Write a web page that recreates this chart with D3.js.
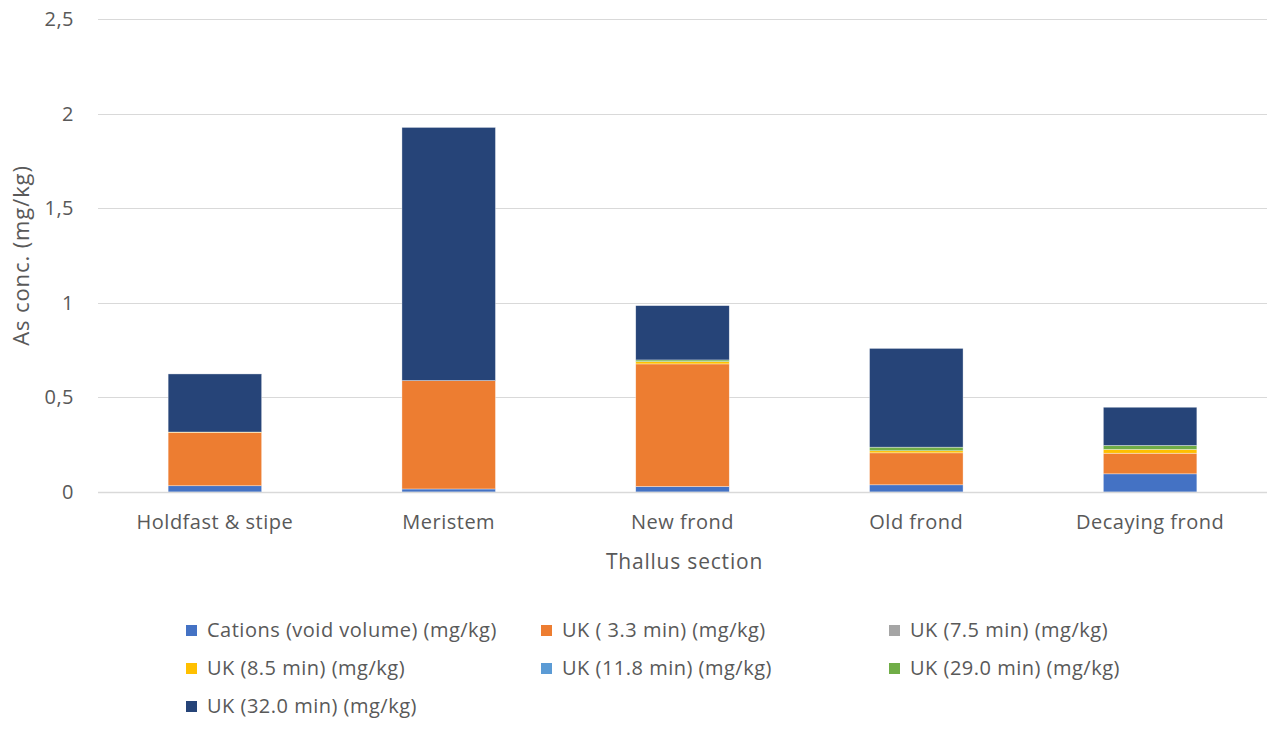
<!DOCTYPE html>
<html>
<head>
<meta charset="utf-8">
<script src="https://cdn.jsdelivr.net/npm/d3@7"></script>
<style>
  html, body { margin: 0; padding: 0; background: #fff; }
  svg text { font-family: "Open Sans", "Noto Sans", sans-serif; fill: #595959; }
</style>
</head>
<body>
<svg id="chart" width="1271" height="729"></svg>
<script>
// Thallus sections along the x axis
const sections = ["Holdfast & stipe", "Meristem", "New frond", "Old frond", "Decaying frond"];

// Arsenic species, stacked bottom to top (mg/kg)
const seriesNames = [
  "Cations (void volume) (mg/kg)",
  "UK ( 3.3 min) (mg/kg)",
  "UK (7.5 min) (mg/kg)",
  "UK (8.5 min) (mg/kg)",
  "UK (11.8 min) (mg/kg)",
  "UK (29.0 min) (mg/kg)",
  "UK (32.0 min) (mg/kg)"
];
const seriesColors = ["#4472C4", "#ED7D31", "#A5A5A5", "#FFC000", "#5B9BD5", "#70AD47", "#264478"];

const cations = [0.033, 0.016, 0.029, 0.038, 0.096];
const uk33    = [0.282, 0.573, 0.648, 0.169, 0.109];
const uk75    = [0.000, 0.000, 0.000, 0.000, 0.000];
const uk85    = [0.002, 0.000, 0.012, 0.011, 0.020];
const uk118   = [0.000, 0.000, 0.000, 0.000, 0.000];
const uk290   = [0.000, 0.000, 0.009, 0.019, 0.021];
const uk320   = [0.307, 1.338, 0.287, 0.522, 0.202];

const yTicks = [0, 0.5, 1, 1.5, 2, 2.5];
const yTickLabels = ["0", "0,5", "1", "1,5", "2", "2,5"];

const seriesValues = [cations, uk33, uk75, uk85, uk118, uk290, uk320];
const rows = sections.map((s, i) => {
  const r = { section: s };
  seriesNames.forEach((n, k) => { r[n] = seriesValues[k][i]; });
  return r;
});

const svg = d3.select("#chart");
const margin = { left: 98, right: 4, top: 19, bottom: 237 };
const W = 1271, H = 729;
const plotW = W - margin.left - margin.right;
const plotH = H - margin.top - margin.bottom;

const x = d3.scaleBand().domain(sections).range([margin.left, margin.left + plotW]).paddingInner(0.6).paddingOuter(0.3);
const y = d3.scaleLinear().domain([0, 2.5]).range([margin.top + plotH, margin.top]);

const labelFont = { size: "20px", spacing: "0.5px" };

// horizontal gridlines
svg.append("g")
  .selectAll("line")
  .data(yTicks)
  .join("line")
  .attr("x1", margin.left).attr("x2", margin.left + plotW)
  .attr("y1", d => Math.round(y(d)) + 0.5).attr("y2", d => Math.round(y(d)) + 0.5)
  .attr("stroke", "#d9d9d9").attr("stroke-width", 1);

// y axis labels
const yAxis = d3.axisLeft(y).tickValues(yTicks).tickFormat((d, i) => yTickLabels[i]).tickSize(0).tickPadding(0);
const gy = svg.append("g").attr("transform", `translate(${margin.left - 24},0)`).call(yAxis);
gy.select(".domain").remove();
gy.selectAll("text")
  .style("font-size", labelFont.size).style("letter-spacing", labelFont.spacing)
  .attr("fill", "#595959").style("font-family", "Open Sans, Noto Sans, sans-serif");

// stacked bars
const stack = d3.stack().keys(seriesNames);
const layers = stack(rows);
svg.append("g")
  .selectAll("g")
  .data(layers)
  .join("g")
  .attr("fill", (d, i) => seriesColors[i])
  .selectAll("rect")
  .data(d => d)
  .join("rect")
  .attr("x", d => x(d.data.section))
  .attr("width", x.bandwidth())
  .attr("y", d => y(d[1]))
  .attr("height", d => Math.max(0, y(d[0]) - y(d[1])))
  .attr("stroke", "#ffffff").attr("stroke-width", 0.6).attr("stroke-opacity", 0.6);

// baseline
svg.append("line")
  .attr("x1", margin.left).attr("x2", margin.left + plotW)
  .attr("y1", Math.round(y(0)) + 0.5).attr("y2", Math.round(y(0)) + 0.5)
  .attr("stroke", "#d9d9d9").attr("stroke-width", 1.5);

// x axis labels
const xAxis = d3.axisBottom(x).tickSize(0).tickPadding(0);
const gx = svg.append("g").attr("transform", `translate(0,${y(0) + 23})`).call(xAxis);
gx.select(".domain").remove();
gx.selectAll("text")
  .style("font-size", labelFont.size).style("letter-spacing", labelFont.spacing)
  .attr("fill", "#595959").style("font-family", "Open Sans, Noto Sans, sans-serif");

// axis titles
svg.append("text")
  .attr("x", margin.left + plotW / 2 + 2).attr("y", 569)
  .attr("text-anchor", "middle").style("font-size", "21px").style("letter-spacing", "0.8px")
  .text("Thallus section");
svg.append("text")
  .attr("transform", `translate(29,${y(1.25)}) rotate(-90)`)
  .attr("text-anchor", "middle").style("font-size", "22px").style("letter-spacing", "0.9px")
  .text("As conc. (mg/kg)");

// legend, three columns
const legendCols = [186, 541, 889];
const legendRows = [630, 668, 706];
const legend = svg.append("g")
  .selectAll("g")
  .data(seriesNames)
  .join("g")
  .attr("transform", (d, i) => `translate(${legendCols[i % 3]},${legendRows[Math.floor(i / 3)]})`);
legend.append("rect")
  .attr("x", 0).attr("y", -5).attr("width", 11).attr("height", 11)
  .attr("fill", (d, i) => seriesColors[i]);
legend.append("text")
  .attr("x", 21).attr("y", 0).attr("dy", "0.35em")
  .style("font-size", labelFont.size).style("letter-spacing", labelFont.spacing)
  .text(d => d);
</script>
</body>
</html>
